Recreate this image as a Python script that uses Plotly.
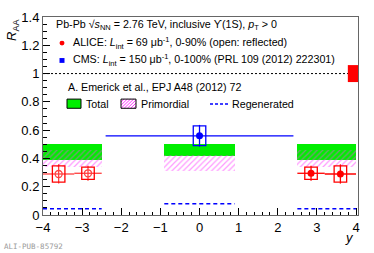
import plotly.graph_objects as go

# ---------------- data ----------------
alice_y = [2.85, 3.6]
alice_raa = [0.295, 0.29]
alice_stat = [0.053, 0.068]
alice_syst = [0.043, 0.057]
alice_xlo = [0.35, 0.4]
alice_xhi = [0.35, 0.4]

alice_refl_y = [-2.85, -3.6]

cms_y = [0.0]
cms_raa = [0.56]
cms_stat = [0.077]
cms_syst = [0.07]
cms_xerr = [2.4]

# theory (Emerick et al.)
th_lo = [-4.0, -0.9, 2.5]
th_hi = [-2.5, 0.9, 4.0]
total_lo = [0.39, 0.42, 0.39]
total_hi = [0.50, 0.50, 0.50]
prim_lo = [0.342, 0.313, 0.342]
prim_hi = [0.463, 0.425, 0.463]
regen = [0.045, 0.08, 0.045]

glob_unc = 0.06
ref_line = 1.0

RED = "#ff0000"
BLUE = "#0000ff"
GREEN = "#00ee00"
MAG = "#ff33ff"
FONT = "Liberation Sans, Arial, sans-serif"

centers = [(a + b) / 2 for a, b in zip(th_lo, th_hi)]
widths = [b - a for a, b in zip(th_lo, th_hi)]

fig = go.Figure()

# Total bands (green)
fig.add_trace(go.Bar(x=centers, y=[b - a for a, b in zip(total_lo, total_hi)], base=total_lo,
                     width=widths, marker=dict(color=GREEN, line=dict(width=0)),
                     showlegend=False, hoverinfo="skip"))
# Primordial bands (hatched)
fig.add_trace(go.Bar(x=centers, y=[b - a for a, b in zip(prim_lo, prim_hi)], base=prim_lo,
                     width=widths,
                     marker=dict(color="rgba(0,0,0,0)", line=dict(width=0),
                                 pattern=dict(shape="/", fgcolor=MAG, bgcolor="rgba(0,0,0,0)",
                                              size=4, solidity=0.3)),
                     showlegend=False, hoverinfo="skip"))

# Regenerated (dashed)
for lo, hi, r in zip(th_lo, th_hi, regen):
    fig.add_trace(go.Scatter(x=[lo, hi], y=[r, r], mode="lines",
                             line=dict(color=BLUE, width=1.5, dash="4px,3px"),
                             showlegend=False, hoverinfo="skip"))

# reference line at 1
fig.add_trace(go.Scatter(x=[-4, 4], y=[ref_line, ref_line], mode="lines",
                         line=dict(color="black", width=1, dash="2px,2px"),
                         showlegend=False, hoverinfo="skip"))

# global uncertainty box
fig.add_shape(type="rect", x0=3.79, x1=4.05, y0=ref_line - glob_unc, y1=ref_line + glob_unc,
              xref="x", yref="y", fillcolor=RED, line=dict(width=0))

# systematic boxes
BOXW = 0.16
for xs, ys, ss, col in [(alice_y, alice_raa, alice_syst, RED),
                        (alice_refl_y, alice_raa, alice_syst, RED),
                        (cms_y, cms_raa, cms_syst, BLUE)]:
    for x, v, s in zip(xs, ys, ss):
        fig.add_shape(type="rect", x0=x - BOXW, x1=x + BOXW, y0=v - s, y1=v + s,
                      xref="x", yref="y", line=dict(color=col, width=1.3),
                      fillcolor="rgba(0,0,0,0)")

# ALICE forward (closed)
fig.add_trace(go.Scatter(x=alice_y, y=alice_raa, mode="markers",
                         marker=dict(symbol="circle", size=7, color=RED),
                         error_y=dict(type="data", array=alice_stat, color=RED, width=0, thickness=1.3),
                         error_x=dict(type="data", array=alice_xhi, arrayminus=alice_xlo,
                                      color=RED, width=0, thickness=1.3),
                         showlegend=False))
# ALICE reflected (open)
fig.add_trace(go.Scatter(x=alice_refl_y, y=alice_raa, mode="markers",
                         marker=dict(symbol="circle-open", size=7, color=RED, line=dict(width=1.3)),
                         error_y=dict(type="data", array=alice_stat, color=RED, width=0, thickness=1.3),
                         error_x=dict(type="data", array=alice_xlo, arrayminus=alice_xhi,
                                      color=RED, width=0, thickness=1.3),
                         showlegend=False, opacity=0.75))
# CMS
fig.add_trace(go.Scatter(x=cms_y, y=cms_raa, mode="markers",
                         marker=dict(symbol="circle", size=7, color=BLUE),
                         error_y=dict(type="data", array=cms_stat, color=BLUE, width=0, thickness=1.3),
                         error_x=dict(type="data", array=cms_xerr, color=BLUE, width=0, thickness=1.3),
                         showlegend=False))

axis_common = dict(showline=True, linecolor="#666666", linewidth=1, mirror=True,
                   ticks="inside", tickcolor="black", showgrid=False, zeroline=False,
                   tickfont=dict(family=FONT, size=13, color="black"))

fig.update_xaxes(range=[-4, 4.05], dtick=1, tick0=0, ticklen=7,
                 minor=dict(dtick=0.2, ticklen=3, ticks="inside", tickcolor="black"),
                 **axis_common)
fig.update_yaxes(range=[0, 1.4], dtick=0.2, tick0=0, ticklen=7,
                 tickformat="~g",
                 minor=dict(dtick=0.05, ticklen=4, ticks="inside", tickcolor="black"),
                 **axis_common)

ann = []
def txt(x, y, s, size=10.7, xanchor="left", yanchor="middle", color="black", family=FONT, angle=0):
    ann.append(dict(x=x, y=y, xref="paper", yref="paper", text=s, showarrow=False,
                    xanchor=xanchor, yanchor=yanchor, textangle=angle,
                    font=dict(family=family, size=size, color=color)))

W, H = 374, 253
L, R, T, B = 43, 16, 10, 38
pw, ph = W - L - R, H - T - B
def px(xp): return (xp - L) / pw
def py(yp): return (H - B - yp) / ph

txt(px(54), py(18), "Pb-Pb √<i>s</i><sub>NN</sub> = 2.76 TeV, inclusive ϒ(1S), <i>p</i><sub>T</sub> &gt; 0")
txt(px(71), py(37), "ALICE: <i>L</i><sub>int</sub> = 69 μb<sup>-1</sup>, 0-90% (open: reflected)")
txt(px(71), py(55), "CMS: <i>L</i><sub>int</sub> = 150 μb<sup>-1</sup>, 0-100% (PRL 109 (2012) 222301)")
txt(px(66), py(82), "A. Emerick et al., EPJ A48 (2012) 72")
txt(px(84), py(100), "Total")
txt(px(139), py(100), "Primordial")
txt(px(230), py(100), "Regenerated")
txt(px(356), py(238), "<i>y</i>", size=13, xanchor="right")
txt(px(12), py(10), "<i>R</i><sub>AA</sub>", size=13, xanchor="center", yanchor="top", angle=-90)
txt(px(2), py(248), "ALI-PUB-85792", size=7.5, color="#9a9a9a", family="DejaVu Sans Mono, monospace")

fig.update_layout(annotations=ann)

# legend symbols (paper coords)
def pshape(**kw):
    fig.add_shape(xref="paper", yref="paper", **kw)

pshape(type="circle", x0=px(59.5), x1=px(64.5), y0=py(39.5), y1=py(34.5), fillcolor=RED, line=dict(width=0))
pshape(type="rect", x0=px(59.5), x1=px(64.5), y0=py(57.5), y1=py(52.5), fillcolor=BLUE, line=dict(width=0))
pshape(type="rect", x0=px(67), x1=px(81), y0=py(104.5), y1=py(95), fillcolor=GREEN, line=dict(color="black", width=1))
# hatch inside primordial legend box
bx0, bx1, by0, by1 = 121, 136, 95, 104.5
hh = by1 - by0
for i in range(-3, 6):
    x0 = bx0 + i * 3.2
    xa = max(x0, bx0)
    xb = min(x0 + hh, bx1)
    if xb <= xa:
        continue
    fig.add_shape(type="line", xref="paper", yref="paper",
                  x0=px(xa), y0=py(by1 - (xa - x0)),
                  x1=px(xb), y1=py(by1 - (xb - x0)),
                  line=dict(color=MAG, width=1))
pshape(type="rect", x0=px(bx0), x1=px(bx1), y0=py(by1), y1=py(by0), fillcolor="rgba(0,0,0,0)", line=dict(color="black", width=1))
pshape(type="line", x0=px(210), x1=px(228), y0=py(100), y1=py(100), line=dict(color=BLUE, width=1.5, dash="3px,2px"))

fig.update_layout(width=W, height=H, margin=dict(l=L, r=R, t=T, b=B),
                  plot_bgcolor="white", paper_bgcolor="white", showlegend=False,
                  barmode="overlay", bargap=0)

fig.write_html("out.html", config={"displayModeBar": False},
               post_script="document.body.style.margin='0px';document.body.style.overflow='hidden';")
